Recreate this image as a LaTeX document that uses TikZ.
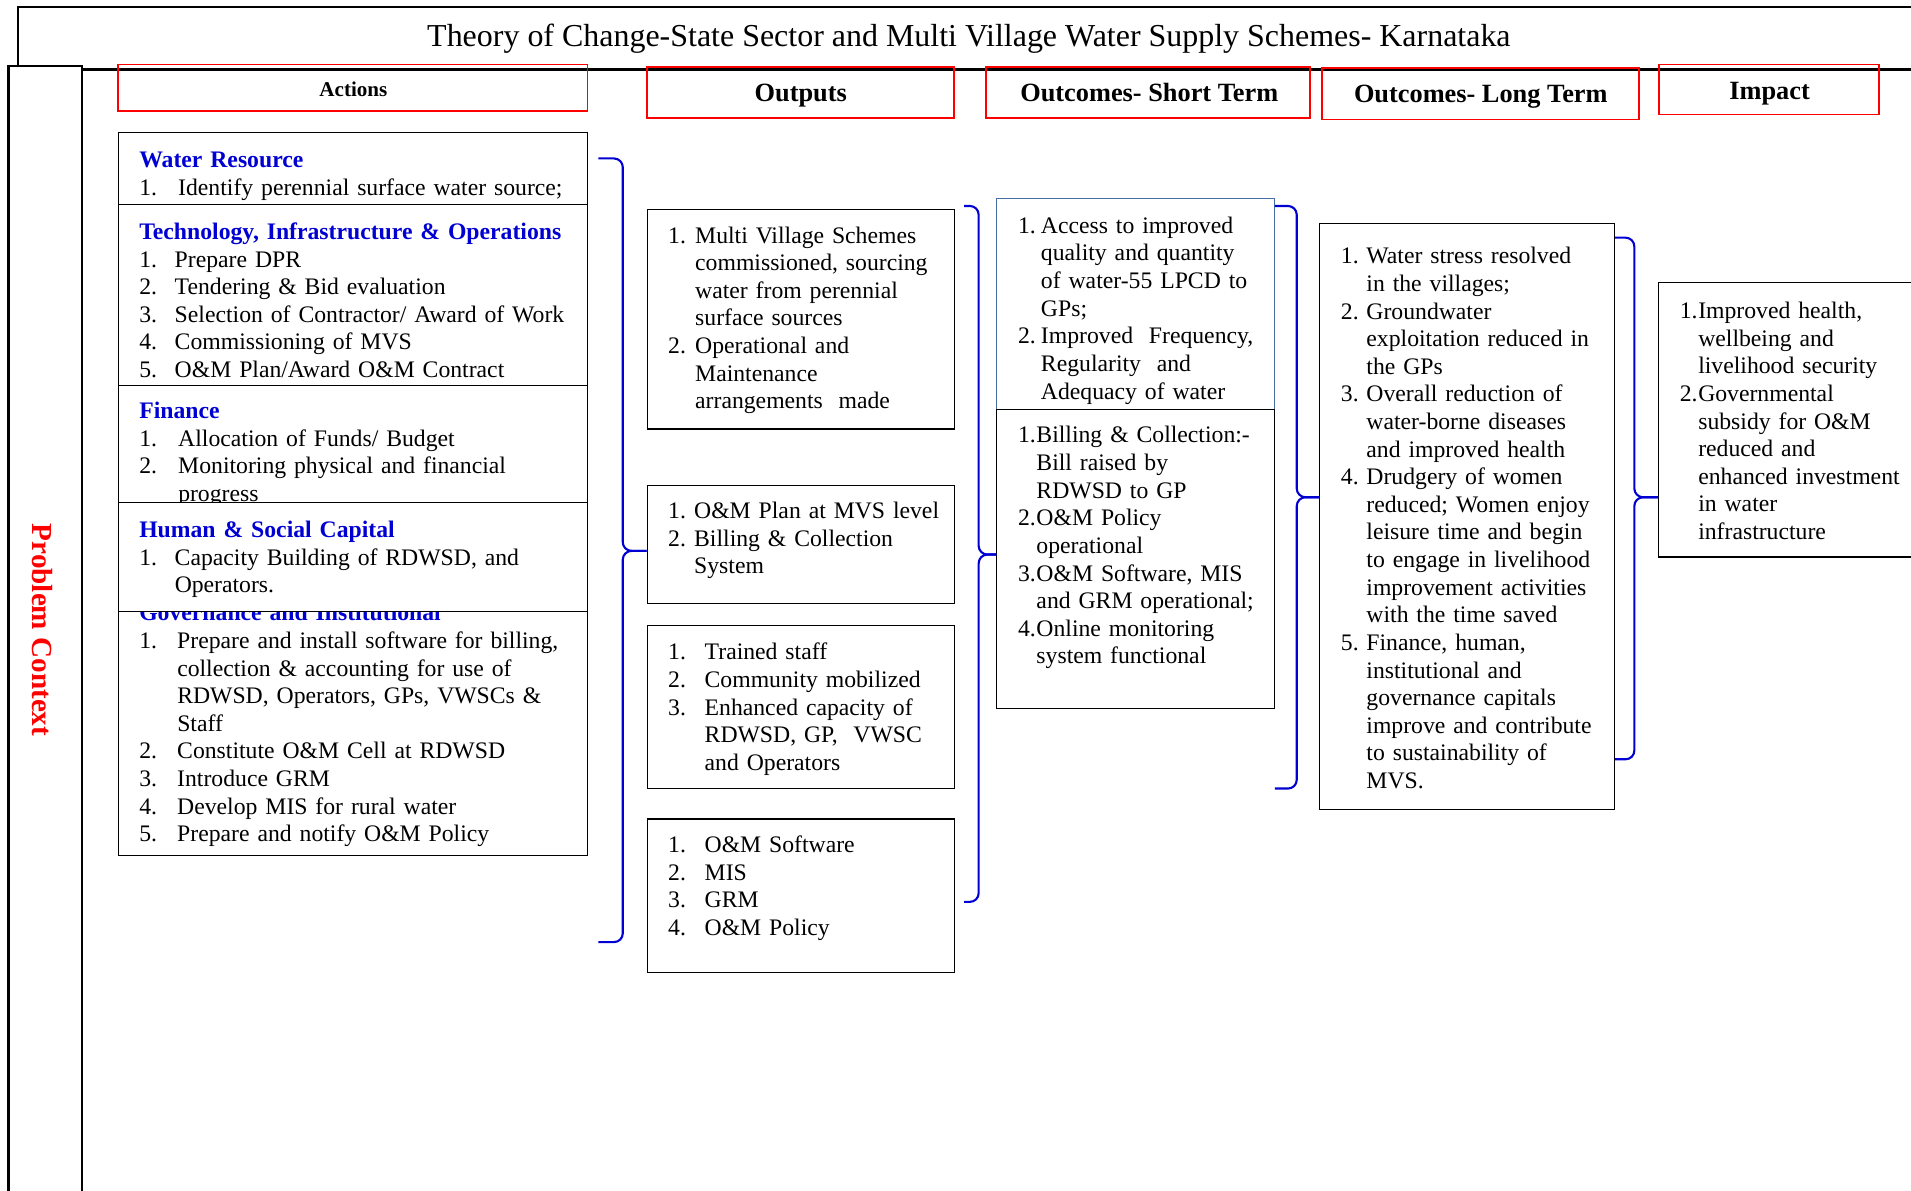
\documentclass[tikz,border=0pt]{standalone}
\usepackage{fontspec}
\setmainfont{Liberation Serif}
\usetikzlibrary{fit}

\definecolor{tocred}{RGB}{255,0,0}
\definecolor{tocblue}{RGB}{0,0,210}
\definecolor{boxblue}{RGB}{70,110,165}

\newcommand{\itemno}[2]{\makebox[#1][l]{#2}}
\newcommand{\grouphead}[1]{{\bfseries\color{tocblue}#1}}
\newcommand{\bodyfont}{\fontsize{13.5}{15.73}\selectfont}

\begin{document}
\begin{tikzpicture}[x=0.0244cm,y=-0.0244cm,
  frame/.style={line width=1.3pt},
  hdrbox/.style={draw=tocred,line width=1pt,inner sep=0pt},
  hdr/.style={anchor=base,inner sep=0pt,font=\fontsize{15}{18}\selectfont\bfseries},
  box/.style={draw,line width=0.6pt,inner sep=0pt},
  txt/.style={anchor=base west,inner sep=0pt,yshift=-0.035cm,text width=9cm,align=left,font=\bodyfont},
  brace/.style={draw=tocblue,line width=1.2pt,rounded corners=5pt}]
\useasboundingbox (0,0) rectangle (1568,977);

% frame and title
\draw[frame] (15,55) -- (15,6) -- (1580,6);
\draw[frame] (67,57) -- (1580,57);
\node[box,line width=1.2pt,fit={(7,54) (67,1000)}] (ctx) {};
\node[rotate=-90,text=tocred,font=\fontsize{16.6}{20}\selectfont\bfseries] (ctxlbl) at (35,517) {Problem Context};
\node[anchor=base,inner sep=0pt,font=\fontsize{18.2}{22}\selectfont] (title) at (795,38) {Theory of Change-State Sector and Multi Village Water Supply Schemes- Karnataka};

% column heads
\node[hdrbox,fit={(97,53) (482,91)}] (hact) {};
\node[hdr,font=\fontsize{12}{14}\selectfont\bfseries] (hacttxt) at (290,79) {Actions};
\node[hdrbox,fit={(531,55) (783,97)}] (hout) {};
\node[hdr] (houttxt) at (657,83) {Outputs};
\node[hdrbox,fit={(809,55) (1075,97)}] (hshort) {};
\node[hdr] (hshorttxt) at (943,83) {Outcomes- Short Term};
\node[hdrbox,fit={(1085,56) (1345,98)}] (hlong) {};
\node[hdr] (hlongtxt) at (1215,84) {Outcomes- Long Term};
\node[hdrbox,fit={(1361,53) (1542,94)}] (himp) {};
\node[hdr] (himptxt) at (1452,82) {Impact};

% actions
\node[box,fit={(97,109) (482,168)}] (act1) {};
\node[txt] (act1txt) at (114,136) {\grouphead{Water Resource}\\
\itemno{0.78cm}{1.}Identify perennial surface water source;};

\node[box,fit={(97,168) (482,316)}] (act2) {};
\node[txt] (act2txt) at (114,195) {\grouphead{Technology, Infrastructure \& Operations}\\
\itemno{0.71cm}{1.}Prepare DPR\\
\itemno{0.71cm}{2.}Tendering \& Bid evaluation\\
\itemno{0.71cm}{3.}Selection of Contractor/ Award of Work\\
\itemno{0.71cm}{4.}Commissioning of MVS\\
\itemno{0.71cm}{5.}O\&M Plan/Award O\&M Contract};

\node[box,fit={(97,316) (482,412)}] (act3) {};
\node[txt] (act3txt) at (114,342) {\grouphead{Finance}\\
\itemno{0.78cm}{1.}Allocation of Funds/ Budget\\
\itemno{0.78cm}{2.}Monitoring physical and financial\\
\itemno{0.78cm}{}progress};

\node[box,fit={(97,502) (482,702)}] (act5) {};
\node[txt] (act5txt) at (114,508) {\grouphead{Governance and Institutional}\\
\itemno{0.76cm}{1.}Prepare and install software for billing,\\
\itemno{0.76cm}{}collection \& accounting for use of\\
\itemno{0.76cm}{}RDWSD, Operators, GPs, VWSCs \&\\
\itemno{0.76cm}{}Staff\\
\itemno{0.76cm}{2.}Constitute O\&M Cell at RDWSD\\
\itemno{0.76cm}{3.}Introduce GRM\\
\itemno{0.76cm}{4.}Develop MIS for rural water\\
\itemno{0.76cm}{5.}Prepare and notify O\&M Policy};

\node[box,fill=white,fit={(97,412) (482,502)}] (act4) {};
\node[txt] (act4txt) at (114,439.5) {\grouphead{Human \& Social Capital}\\
\itemno{0.71cm}{1.}Capacity Building of RDWSD, and\\
\itemno{0.71cm}{}Operators.};

% outputs
\node[box,fit={(531,172) (783,352)}] (out1) {};
\node[txt] (out1txt) at (548,198) {\itemno{0.54cm}{1.}Multi Village Schemes\\
\itemno{0.54cm}{}commissioned, sourcing\\
\itemno{0.54cm}{}water from perennial\\
\itemno{0.54cm}{}surface sources\\
\itemno{0.54cm}{2.}Operational and\\
\itemno{0.54cm}{}Maintenance\\
\itemno{0.54cm}{}arrangements\ \ made};

\node[box,fit={(531,398) (783,495)}] (out2) {};
\node[txt] (out2txt) at (548,424) {\itemno{0.52cm}{1.}O\&M Plan at MVS level\\
\itemno{0.52cm}{2.}Billing \& Collection\\
\itemno{0.52cm}{}System};

\node[box,fit={(531,513) (783,647)}] (out3) {};
\node[txt] (out3txt) at (548,540) {\itemno{0.73cm}{1.}Trained staff\\
\itemno{0.73cm}{2.}Community mobilized\\
\itemno{0.73cm}{3.}Enhanced capacity of\\
\itemno{0.73cm}{}RDWSD, GP,\ \ VWSC\\
\itemno{0.73cm}{}and Operators};

\node[box,fit={(531,672) (783,798)}] (out4) {};
\node[txt] (out4txt) at (548,698) {\itemno{0.73cm}{1.}O\&M Software\\
\itemno{0.73cm}{2.}MIS\\
\itemno{0.73cm}{3.}GRM\\
\itemno{0.73cm}{4.}O\&M Policy};

% short term outcomes
\node[box,draw=boxblue,fit={(818,163) (1046,336)}] (short1) {};
\node[txt] (short1txt) at (835,190) {\itemno{0.46cm}{1.}Access to improved\\
\itemno{0.46cm}{}quality and quantity\\
\itemno{0.46cm}{}of water-55 LPCD to\\
\itemno{0.46cm}{}GPs;\\
\itemno{0.46cm}{2.}Improved\ \ Frequency,\\
\itemno{0.46cm}{}Regularity\ \ and\\
\itemno{0.46cm}{}Adequacy of water};

\node[box,fit={(818,336) (1046,581)}] (short2) {};
\node[txt] (short2txt) at (835,362) {\itemno{0.37cm}{1.}Billing \& Collection:-\\
\itemno{0.37cm}{}Bill raised by\\
\itemno{0.37cm}{}RDWSD to GP\\
\itemno{0.37cm}{2.}O\&M Policy\\
\itemno{0.37cm}{}operational\\
\itemno{0.37cm}{3.}O\&M Software, MIS\\
\itemno{0.37cm}{}and GRM operational;\\
\itemno{0.37cm}{4.}Online monitoring\\
\itemno{0.37cm}{}system functional};

% long term outcomes
\node[box,fit={(1083,183) (1325,664)}] (long1) {};
\node[txt] (long1txt) at (1100,215) {\itemno{0.51cm}{1.}Water stress resolved\\
\itemno{0.51cm}{}in the villages;\\
\itemno{0.51cm}{2.}Groundwater\\
\itemno{0.51cm}{}exploitation reduced in\\
\itemno{0.51cm}{}the GPs\\
\itemno{0.51cm}{3.}Overall reduction of\\
\itemno{0.51cm}{}water-borne diseases\\
\itemno{0.51cm}{}and improved health\\
\itemno{0.51cm}{4.}Drudgery of women\\
\itemno{0.51cm}{}reduced; Women enjoy\\
\itemno{0.51cm}{}leisure time and begin\\
\itemno{0.51cm}{}to engage in livelihood\\
\itemno{0.51cm}{}improvement activities\\
\itemno{0.51cm}{}with the time saved\\
\itemno{0.51cm}{5.}Finance, human,\\
\itemno{0.51cm}{}institutional and\\
\itemno{0.51cm}{}governance capitals\\
\itemno{0.51cm}{}improve and contribute\\
\itemno{0.51cm}{}to sustainability of\\
\itemno{0.51cm}{}MVS.};

% impact
\node[box,fit={(1361,232) (1580,457)}] (imp1) {};
\node[txt] (imp1txt) at (1378,260) {\itemno{0.37cm}{1.}Improved health,\\
\itemno{0.37cm}{}wellbeing and\\
\itemno{0.37cm}{}livelihood security\\
\itemno{0.37cm}{2.}Governmental\\
\itemno{0.37cm}{}subsidy for O\&M\\
\itemno{0.37cm}{}reduced and\\
\itemno{0.37cm}{}enhanced investment\\
\itemno{0.37cm}{}in water\\
\itemno{0.37cm}{}infrastructure};

% braces
\coordinate (b1t) at (491,130);
\coordinate (b1b) at (491,773);
\coordinate (b1m) at (511,452);
\draw[brace] (b1t) -- (b1t -| b1m) -- (b1m) -- (b1m -| out2.west);
\draw[brace] (b1b) -- (b1b -| b1m) -- (b1m) -- (b1m -| out2.west);

\coordinate (b2t) at (791,169);
\coordinate (b2b) at (791,740);
\coordinate (b2m) at (803,455);
\draw[brace] (b2t) -- (b2t -| b2m) -- (b2m) -- (b2m -| short2.west);
\draw[brace] (b2b) -- (b2b -| b2m) -- (b2m) -- (b2m -| short2.west);

\coordinate (b3t) at (1046,169);
\coordinate (b3b) at (1046,647);
\coordinate (b3m) at (1064,408);
\draw[brace] (b3t) -- (b3t -| b3m) -- (b3m) -- (b3m -| long1.west);
\draw[brace] (b3b) -- (b3b -| b3m) -- (b3m) -- (b3m -| long1.west);

\coordinate (b4t) at (1325,195);
\coordinate (b4b) at (1325,623);
\coordinate (b4m) at (1341,408);
\draw[brace] (b4t) -- (b4t -| b4m) -- (b4m) -- (b4m -| imp1.west);
\draw[brace] (b4b) -- (b4b -| b4m) -- (b4m) -- (b4m -| imp1.west);
\end{tikzpicture}
\end{document}
